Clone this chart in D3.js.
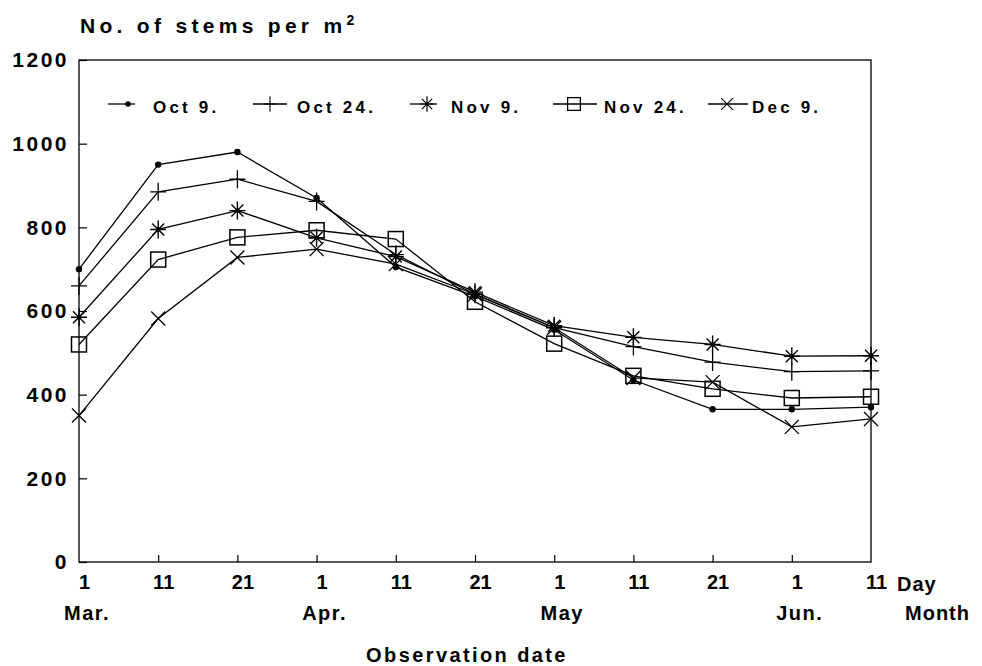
<!DOCTYPE html>
<html>
<head>
<meta charset="utf-8">
<script src="https://cdn.jsdelivr.net/npm/d3@7"></script>
<style>
  html, body { margin: 0; padding: 0; background: #fff; }
  svg text { font-family: "Liberation Sans", Arial, sans-serif; font-weight: bold; fill: #000; }
</style>
</head>
<body>
<svg id="chart" width="982" height="666"></svg>
<script>
// Observation dates (day / month) along the x axis
const dates = ["Mar 1", "Mar 11", "Mar 21", "Apr 1", "Apr 11", "Apr 21", "May 1", "May 11", "May 21", "Jun 1", "Jun 11"];
const dayLabels = ["1", "11", "21", "1", "11", "21", "1", "11", "21", "1", "11"];
const monthLabels = ["Mar.", "", "", "Apr.", "", "", "May", "", "", "Jun.", ""];
const yTicks = [0, 200, 400, 600, 800, 1000, 1200];

// Stem density (stems per m²) for each sowing date
const oct9  = [700, 950, 980, 870, 705, 635, 555, 435, 365, 365, 370];
const oct24 = [660, 885, 915, 862, 735, 640, 560, 515, 478, 455, 457];
const nov9  = [585, 795, 840, 775, 730, 645, 565, 537, 520, 492, 493];
const nov24 = [520, 723, 776, 793, 772, 622, 522, 445, 414, 392, 395];
const dec9  = [350, 582, 728, 748, 712, 640, 560, 440, 430, 323, 342];

const seriesNames = ["Oct 9.", "Oct 24.", "Nov 9.", "Nov 24.", "Dec 9."];
const seriesMarkers = ["dot", "plus", "star", "square", "cross"];
const seriesValues = [oct9, oct24, nov9, nov24, dec9];

const svg = d3.select("#chart");
const plotLeft = 79, plotRight = 871, plotTop = 60, plotBottom = 562;

const x = d3.scalePoint().domain(dates).range([plotLeft, plotRight]);
const y = d3.scaleLinear().domain([0, 1200]).range([plotBottom, plotTop]);

// marker painters
function drawMarker(g, type, cx, cy, scale = 1) {
  const s = g.append("g").attr("transform", `translate(${cx},${cy}) scale(${scale})`)
    .attr("stroke", "#000").attr("stroke-width", 1.3).attr("fill", "none");
  if (type === "dot") {
    s.append("circle").attr("r", 3.2).attr("fill", "#000").attr("stroke", "none");
  } else if (type === "plus") {
    s.append("path").attr("d", "M-8,0H8M0,-9V9");
  } else if (type === "star") {
    s.append("path").attr("d", "M-8,0H8M0,-9V9M-6,-6L6,6M-6,6L6,-6").attr("stroke-width", 1.4);
    s.append("circle").attr("r", 2.2).attr("fill", "#000").attr("stroke", "none");
  } else if (type === "square") {
    s.append("rect").attr("x", -7.5).attr("y", -7.5).attr("width", 15).attr("height", 15).attr("stroke-width", 1.5);
  } else if (type === "cross") {
    s.append("path").attr("d", "M-7,-7L7,7M-7,7L7,-7");
  }
}

// frame
svg.append("rect")
  .attr("x", plotLeft).attr("y", plotTop)
  .attr("width", plotRight - plotLeft).attr("height", plotBottom - plotTop)
  .attr("fill", "none").attr("stroke", "#000").attr("stroke-width", 1.3);

// y axis (inward ticks)
const yAxis = svg.append("g")
  .attr("transform", `translate(${plotLeft},0)`)
  .call(d3.axisLeft(y).tickValues(yTicks).tickSize(-8).tickPadding(10).tickFormat(d3.format("d")));
yAxis.select(".domain").remove();
yAxis.selectAll("line").attr("stroke", "#000").attr("stroke-width", 1.2);
yAxis.selectAll("text")
  .style("font-size", "21px").style("letter-spacing", "2.5px")
  .attr("font-family", null).attr("fill", "#000");

// x axis (inward ticks, day labels)
const xAxis = svg.append("g")
  .attr("transform", `translate(0,${plotBottom})`)
  .call(d3.axisBottom(x).tickSize(-7).tickPadding(13).tickFormat((d, i) => dayLabels[i]));
xAxis.select(".domain").remove();
xAxis.selectAll("line").attr("stroke", "#000").attr("stroke-width", 1.2);
xAxis.selectAll(".tick:first-of-type line, .tick:last-of-type line").remove();
xAxis.selectAll("text")
  .style("font-size", "20px").attr("dx", 5)
  .attr("font-family", null).attr("fill", "#000");

// month labels
svg.append("g").selectAll("text")
  .data(dates.map((d, i) => ({ d, m: monthLabels[i] })).filter(o => o.m))
  .join("text")
  .attr("x", o => x(o.d) + 8).attr("y", 620)
  .attr("text-anchor", "middle")
  .style("font-size", "20px").style("letter-spacing", "1.5px")
  .text(o => o.m);

svg.append("text").attr("x", 897).attr("y", 591)
  .style("font-size", "20px").style("letter-spacing", "1px").text("Day");
svg.append("text").attr("x", 905).attr("y", 620)
  .style("font-size", "20px").style("letter-spacing", "1px").text("Month");

// axis titles
svg.append("text").attr("x", 467).attr("y", 662).attr("text-anchor", "middle")
  .style("font-size", "20px").style("letter-spacing", "2.4px").text("Observation date");

const title = svg.append("text").attr("x", 80).attr("y", 33)
  .style("font-size", "21px").style("letter-spacing", "4.3px");
title.append("tspan").text("No. of stems per m");
title.append("tspan").attr("dy", -8).style("font-size", "14px").style("letter-spacing", "0px").text("2");

// series lines and markers
const line = d3.line().x((d, i) => x(dates[i])).y(d => y(d));
seriesValues.forEach((vals, k) => {
  svg.append("path").datum(vals)
    .attr("d", line).attr("fill", "none")
    .attr("stroke", "#000").attr("stroke-width", 1.3);
  const mg = svg.append("g");
  vals.forEach((v, i) => drawMarker(mg, seriesMarkers[k], x(dates[i]), y(v)));
});

// legend
const legendItems = [
  { x1: 108, x2: 135, mx: 128, tx: 153 },
  { x1: 253, x2: 287, mx: 270, tx: 297 },
  { x1: 410, x2: 437, mx: 427, tx: 451 },
  { x1: 553, x2: 597, mx: 574, tx: 604 },
  { x1: 708, x2: 748, mx: 727, tx: 752 }
];
const lg = svg.append("g");
legendItems.forEach((it, k) => {
  lg.append("line").attr("x1", it.x1).attr("x2", it.x2).attr("y1", 104).attr("y2", 104)
    .attr("stroke", "#000").attr("stroke-width", 1.3);
  drawMarker(lg, seriesMarkers[k], it.mx, 104, 0.85);
  lg.append("text").attr("x", it.tx).attr("y", 113)
    .style("font-size", "17px").style("letter-spacing", "3.2px")
    .text(seriesNames[k]);
});
</script>
</body>
</html>
